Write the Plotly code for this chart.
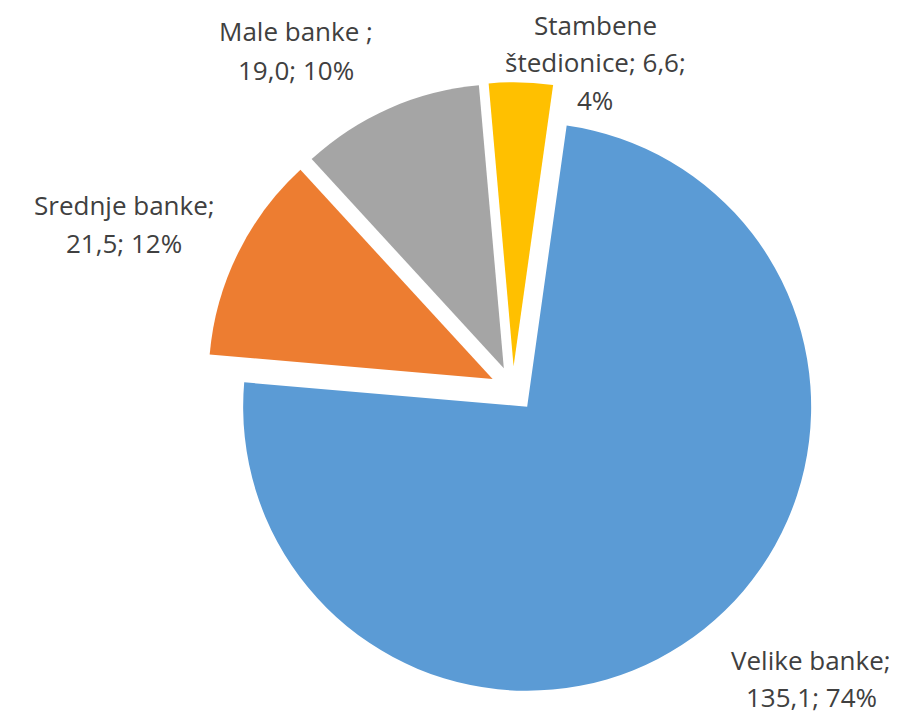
import plotly.graph_objects as go

# ---- data ----
categories = ["Velike banke", "Srednje banke", "Male banke ", "Stambene štedionice"]
values = [135.1, 21.5, 19.0, 6.6]
colors = ["#5B9BD5", "#ED7D31", "#A5A5A5", "#FFC000"]

W, H = 897, 715
total = sum(values)


def fmt_num(v):
    return f"{v:.1f}".replace(".", ",")


def label_lines(i):
    name = categories[i]
    num = fmt_num(values[i])
    pct = f"{round(values[i] / total * 100):.0f}%"
    if i == 3:
        first, second = name.split(" ", 1)
        return [first, f"{second}; {num};", pct]
    return [f"{name};", f"{num}; {pct}"]


# layout: label line centres in pixels (x, first line y, line step)
label_pos = [(803, 652, 36.5), (116, 197, 38), (288, 23, 39), (587, 17, 37.5)]

PULL = 0.08
R = 284
box = 2 * R * (1 + PULL)
cx, cy = 505, 381
fig = go.Figure()
fig.add_trace(go.Pie(
    labels=categories,
    values=values,
    marker=dict(colors=colors, line=dict(width=0)),
    sort=False,
    direction="clockwise",
    rotation=8,
    pull=[PULL] * 4,
    textinfo="none",
    hoverinfo="label+value+percent",
    domain=dict(x=[(cx - box / 2) / W, (cx + box / 2) / W],
                y=[1 - (cy + box / 2) / H, 1 - (cy - box / 2) / H]),
    showlegend=False,
))

annotations = []
for i in range(len(categories)):
    x, y0, step = label_pos[i]
    for k, line in enumerate(label_lines(i)):
        annotations.append(dict(
            x=x / W, y=1 - (y0 + k * step) / H,
            xref="paper", yref="paper",
            xanchor="center", yanchor="middle",
            text=line, showarrow=False,
            font=dict(family="Open Sans", size=26, color="#404040"),
        ))

fig.update_layout(
    width=W, height=H,
    margin=dict(l=0, r=0, t=0, b=0),
    paper_bgcolor="white",
    plot_bgcolor="white",
    annotations=annotations,
)

fig.write_html("out.html")
